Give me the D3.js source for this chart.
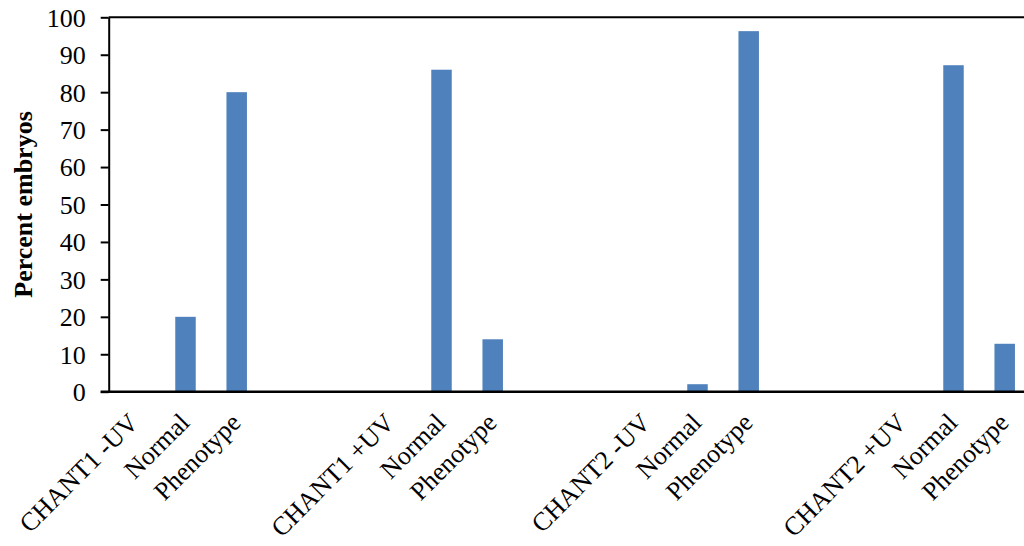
<!DOCTYPE html>
<html>
<head>
<meta charset="utf-8">
<script src="https://d3js.org/d3.v7.min.js"></script>
<style>
  html, body { margin: 0; padding: 0; background: #ffffff; overflow: hidden; }
  svg { display: block; }
</style>
</head>
<body>
<svg id="chart" width="1024" height="546"></svg>
<script>
// ---- Data ----
const categories = [
  "CHANT1 -UV", "Normal", "Phenotype", "", "",
  "CHANT1 +UV", "Normal", "Phenotype", "", "",
  "CHANT2 -UV", "Normal", "Phenotype", "", "",
  "CHANT2 +UV", "Normal", "Phenotype"
];
const values = [
  null, 20, 80, null, null,
  null, 86, 14, null, null,
  null, 2, 96.3, null, null,
  null, 87.2, 12.8
];
const yTicks = [0, 10, 20, 30, 40, 50, 60, 70, 80, 90, 100];
const yTitle = "Percent embryos";

(function () {
// ---- Layout ----
const svg = d3.select("#chart");
const mLeft = 108.7, mTop = 17.3, mBottom = 391.7;
const step = 51.2;
const mRight = mLeft + step * categories.length;

const idx = categories.map((d, i) => i);
const x = d3.scaleBand().domain(idx).range([mLeft, mRight]).paddingInner(0.6).paddingOuter(0.3);
const y = d3.scaleLinear().domain([0, 100]).range([mBottom, mTop]);

const font = "'Liberation Serif', 'Times New Roman', serif";

// bars
svg.append("g").selectAll("rect")
  .data(values.map((v, i) => ({ v, i })).filter(d => d.v !== null))
  .join("rect")
  .attr("x", d => x(d.i))
  .attr("width", x.bandwidth())
  .attr("y", d => y(d.v))
  .attr("height", d => y(0) - y(d.v))
  .attr("fill", "#4F81BD");

// plot border (top line)
svg.append("line")
  .attr("x1", mLeft).attr("x2", mRight)
  .attr("y1", mTop).attr("y2", mTop)
  .attr("stroke", "#000").attr("stroke-width", 2);

// y axis
const yAxis = svg.append("g")
  .attr("transform", `translate(${mLeft},0)`)
  .call(d3.axisLeft(y).tickValues(yTicks).tickSize(8).tickPadding(15).tickSizeOuter(0));
yAxis.select(".domain").attr("stroke", "#000").attr("stroke-width", 2);
yAxis.selectAll(".tick line").attr("stroke", "#000").attr("stroke-width", 2);
yAxis.selectAll(".tick text")
  .attr("font-family", font).attr("font-size", 26).attr("fill", "#000")
  .attr("dy", "0.34em");

// x axis line
const xAxis = svg.append("g")
  .attr("transform", `translate(0,${mBottom})`)
  .call(d3.axisBottom(x).tickSize(0).tickFormat(i => categories[i]));
xAxis.select(".domain").attr("stroke", "#000").attr("stroke-width", 2.4)
  .attr("d", `M${mLeft - 8},0H${mRight}`);
xAxis.selectAll(".tick text")
  .attr("font-family", font).attr("font-size", 26).attr("fill", "#000")
  .attr("text-anchor", "end")
  .attr("dy", "0.35em")
  .attr("transform", "translate(-1,26) rotate(-45)")
  .attr("y", 0).attr("x", 0);

// y title
svg.append("text")
  .attr("transform", `translate(23,${(mTop + mBottom) / 2}) rotate(-90)`)
  .attr("text-anchor", "middle")
  .attr("dy", "0.35em")
  .attr("font-family", font).attr("font-size", 26).attr("font-weight", "bold")
  .attr("fill", "#000")
  .text(yTitle);
})();
</script>
</body>
</html>
